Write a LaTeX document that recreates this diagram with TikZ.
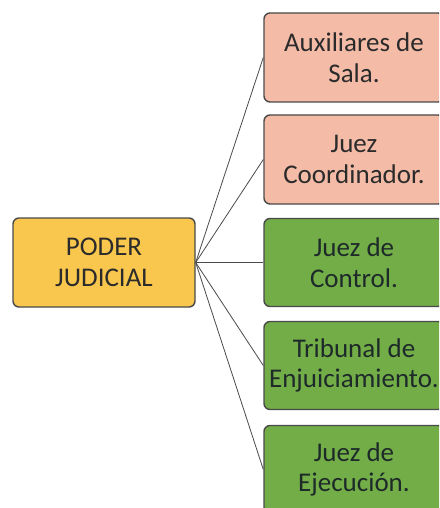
\documentclass[tikz,border=0pt]{standalone}
\usepackage{fontspec}
\setmainfont{Carlito}
\definecolor{pinkfill}{HTML}{F4BBA7}
\definecolor{greenfill}{HTML}{72AD47}
\definecolor{yellowfill}{HTML}{FAC74E}
\definecolor{edgegray}{HTML}{4A4A4A}
\definecolor{txtdark}{HTML}{2B2B2B}
\definecolor{txtgreen}{HTML}{1E2A2A}
\tikzset{
  box/.style={draw=edgegray, line width=1.4pt, rounded corners=6pt, align=center,
    inner sep=0pt, font=\fontsize{27}{30.5}\selectfont},
  pinkbox/.style={box, fill=pinkfill, text=txtdark, minimum width=180pt, minimum height=89pt},
  greenbox/.style={box, fill=greenfill, text=txtgreen, minimum width=180pt, minimum height=88pt},
  rootbox/.style={box, fill=yellowfill, text=txtdark, minimum width=182pt, minimum height=89pt},
  link/.style={draw=edgegray, line width=0.8pt}
}
\begin{document}
\begin{tikzpicture}[x=1pt,y=-1pt]
\useasboundingbox (0,0) rectangle (439,508);
\fill[white] (0,0) rectangle (439,508);
\clip (0,0) rectangle (439,508);
\node[rootbox] (root) at (104,262.5) {PODER\\JUDICIAL};
\node[pinkbox] (b1) at (354,57.5) {Auxiliares de\\Sala.};
\node[pinkbox] (b2) at (354,159.5) {Juez\\Coordinador.};
\node[greenbox] (b3) at (354,262.5) {Juez de\\Control.};
\node[greenbox] (b4) at (354,365.5) {Tribunal de\\Enjuiciamiento.};
\node[greenbox] (b5) at (354,469.5) {Juez de\\Ejecución.};
\foreach \b in {b1,b2,b3,b4,b5} \draw[link] (root.east) -- (\b.west);
\end{tikzpicture}
\end{document}
